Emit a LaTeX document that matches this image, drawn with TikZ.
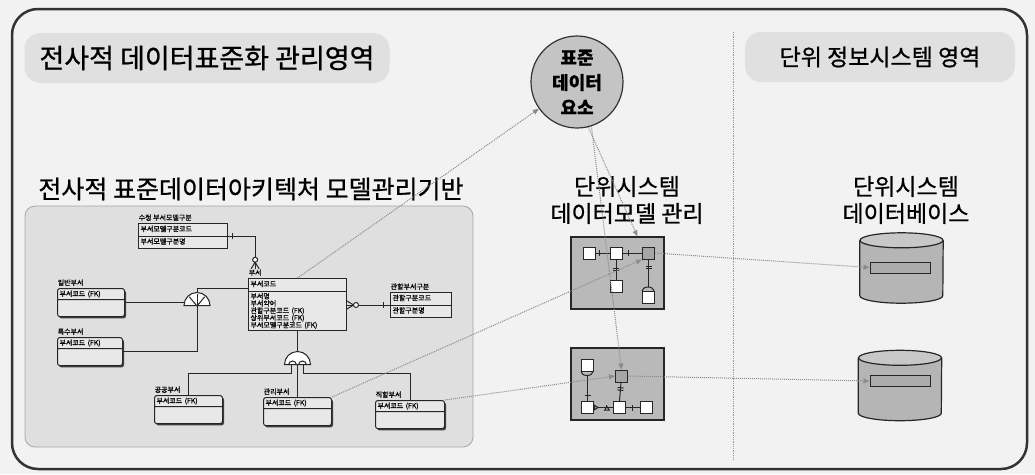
\documentclass[tikz,border=0pt]{standalone}
\usepackage{fontspec}
\setmainfont{Noto Sans CJK KR}[FakeBold=0.8]
\usetikzlibrary{shapes.geometric,shapes.multipart,shadows,arrows.meta,decorations.markings}
\newcommand{\tinyer}{\fontsize{7}{7.2}\selectfont}
\newcommand{\erstrut}{\rule[-2.5pt]{0pt}{8.5pt}}

\begin{document}
\begin{tikzpicture}[x=1pt,y=-1pt,
	ent/.style={rectangle split, rectangle split parts=2, draw=black!85, fill=gray!18, line width=1pt, font=\tinyer, align=left, text width=#1, inner xsep=2pt, inner ysep=1.5pt, anchor=north west},
	subent/.style={ent=#1, rounded corners=2.5pt, drop shadow={shadow xshift=1.5pt, shadow yshift=-1.8pt, fill=black!75, opacity=1}},
	etitle/.style={font=\tinyer, inner sep=0.5pt, anchor=south west, yshift=1.5pt},
	erline/.style={draw=black!85, line width=1pt},
	cat/.style={semicircle, draw=black!85, fill=white, line width=1pt, inner sep=0pt, minimum width=26pt, minimum height=13pt, anchor=chord center},
	modelbox/.style={draw=black!85, fill=gray!55, line width=1.2pt, minimum width=93pt, minimum height=72pt},
	sq/.style={draw=black!85, fill=white, line width=1pt, inner sep=0pt, minimum size=12pt},
	tsq/.style={sq, fill=gray!70},
	dbase/.style={inner sep=0pt, minimum width=83pt, minimum height=70pt},
	dbin/.style={draw=black!85, fill=gray!66, line width=1pt, minimum width=60pt, minimum height=11pt, inner sep=0pt},
	flow/.style={densely dotted, black!45, line width=1pt, -{Triangle[width=5pt,length=6pt]}},
	pill/.style={fill=gray!24, rounded corners=16pt, minimum height=50pt},
	onebar/.style={postaction={decorate, decoration={markings, mark=at position #1 with {\draw[black!85, line width=1pt] (0,-3pt) -- (0,3pt);}}}},
	twobar/.style={postaction={decorate, decoration={markings, mark=at position #1 with {\draw[black!85, line width=1pt] (-1.2pt,-3pt) -- (-1.2pt,3pt) (1.2pt,-3pt) -- (1.2pt,3pt);}}}},
	crowstart/.style={postaction={decorate, decoration={markings,
		mark=at position 0.5pt with {\draw[black!85, line width=1pt] (-0.5pt,4pt) -- (6pt,0) -- (-0.5pt,-4pt);},
		mark=at position 9pt with {\draw[black!85, line width=1pt, fill=white] (0,0) circle (2.5pt);}}}},
	crowend/.style={postaction={decorate, decoration={markings,
		mark=at position -9pt with {\draw[black!85, line width=1pt, fill=white] (0,0) circle (2.5pt);},
		mark=at position -0.5pt with {\draw[black!85, line width=1pt] (0.5pt,4pt) -- (-6pt,0) -- (0.5pt,-4pt);}}}}
]
	% Page, frame and divider
	\useasboundingbox (0,0) rectangle (1035,474);
	\fill[gray!10] (0,0) rectangle (1035,474);
	\draw[black!80, line width=2.5pt, rounded corners=26pt] (12,9) rectangle (1027,469);
	\draw[densely dotted, black!40, line width=0.8pt] (733,32) -- (733,460);
	
	% Area titles
	\node[pill, minimum width=365pt, font=\fontsize{27}{32}\selectfont] (eaarea) at (207,58) {전사적 데이터표준화 관리영역};
	\node[pill, minimum width=270pt, font=\fontsize{23}{28}\selectfont] (unitarea) at (880,57) {단위 정보시스템 영역};
	\node[font=\fontsize{25}{30}\selectfont] (eabase) at (251,189) {전사적 표준데이터아키텍처 모델관리기반};
	\node[font=\fontsize{23}{27}\selectfont, align=center] (mdlttl) at (627,200) {단위시스템\\데이터모델 관리};
	\node[font=\fontsize{23}{27}\selectfont, align=center] (dbttl) at (906,200) {단위시스템\\데이터베이스};
	
	% Standard data element
	\node[circle, draw=black!80, fill=gray!46, line width=1.2pt, minimum size=92pt, inner sep=0pt, align=center, font=\fontsize{18}{25}\selectfont\bfseries] (std) at (577,82) {표준\\데이터\\요소};
	
	% Enterprise ER model panel
	\draw[black!35, fill=gray!25, rounded corners=10pt, line width=0.8pt] (25,206) rectangle (473,447);
	
	% Entities
	\node[ent=85pt] (topent) at (138,223) {\erstrut 부서모델구분코드 \nodepart{two}\erstrut 부서모델구분명};
	\node[etitle] (topttl) at (topent.north west) {수정 부서모델구분};
	\node[ent=94pt] (dept) at (248,278) {\erstrut 부서코드 \nodepart{two}부서명\\부서약어\\관할구분코드 (FK)\\상위부서코드 (FK)\\부서모델구분코드 (FK)};
	\node[etitle] (deptttl) at (dept.north west) {부서};
	\node[ent=57pt] (gwan) at (390,292) {\erstrut 관할구분코드 \nodepart{two}\erstrut 관할구분명};
	\node[etitle] (gwanttl) at (gwan.north west) {관할부서구분};
	
	% Subtype entities
	\node[subent=63pt] (sub1) at (57,288) {부서코드 (FK) \nodepart{two}\rule{0pt}{13pt}};
	\node[etitle] (sub1ttl) at (sub1.north west) {일반부서};
	\node[subent=61pt] (sub2) at (57,337) {부서코드 (FK) \nodepart{two}\rule{0pt}{13pt}};
	\node[etitle] (sub2ttl) at (sub2.north west) {특수부서};
	\node[subent=64pt] (sub3) at (154,395) {부서코드 (FK) \nodepart{two}\rule{0pt}{13pt}};
	\node[etitle] (sub3ttl) at (sub3.north west) {공공부서};
	\node[subent=64pt] (sub4) at (263,397) {부서코드 (FK) \nodepart{two}\rule{0pt}{13pt}};
	\node[etitle] (sub4ttl) at (sub4.north west) {관리부서};
	\node[subent=65pt] (sub5) at (375,400) {부서코드 (FK) \nodepart{two}\rule{0pt}{13pt}};
	\node[etitle] (sub5ttl) at (sub5.north west) {직할부서};
	
	% Category symbols
	\node[cat] (catL) at (197,306) {};
	\foreach \a in {50,90,130}
		\draw[erline] (catL.chord center) -- ++(\a:12pt);
	\node[cat] (catB) at (297.5,365) {};
	\draw[erline] ([xshift=-9pt]catB.chord center) arc[start angle=180, end angle=0, radius=4pt];
	\draw[erline] ([xshift=1pt]catB.chord center) arc[start angle=180, end angle=0, radius=4pt];
	
	% Relationships
	\draw[erline, onebar=4pt, crowend] (topent.east) -| (deptttl.north);
	\draw[erline] ([yshift=-10pt]dept.north west) -| (catL.apex);
	\draw[erline] (sub1.east) -- (sub1.east -| catL.arc end);
	\draw[erline] (catL.chord center) |- (sub2.east);
	\draw[erline] (dept.south) -- (catB.apex);
	\draw[erline] ([xshift=-6pt]catB.chord center) -- ++(0,8) -| (sub3.north);
	\draw[erline] (catB.chord center) -- (sub4.north);
	\draw[erline] ([xshift=6pt]catB.chord center) -- ++(0,8) -| (sub5.north);
	\draw[erline, crowstart, onebar=-7pt] (dept.east |- gwan.west) -- (gwan.west);
	
	% Unit system data models
	\node[modelbox] (mb1) at (617.5,273) {};
	\node[sq] (m1a) at (589,253) {};
	\node[sq] (m1b) at (616,253) {};
	\node[tsq] (m1c) at (648.5,253) {};
	\node[sq] (m1d) at (616,286) {};
	\node[sq] (m1e) at (648.5,297.5) {};
	\draw[erline] (m1e.north west) arc[start angle=180, end angle=0, x radius=6pt, y radius=4pt];
	\draw[erline, onebar=0.3] (m1a) -- (m1b);
	\draw[erline, onebar=0.3] (m1b) -- (m1c);
	\draw[erline, twobar=0.5] (m1b) -- (m1d);
	\draw[erline, twobar=0.3] (m1c.south) -- ([yshift=4pt]m1e.north);
	
	\node[modelbox] (mb2) at (617.5,384) {};
	\node[sq] (m2f) at (587.5,365) {};
	\node[tsq] (m2g) at (621.5,376) {};
	\node[sq] (m2h) at (587.5,407.5) {};
	\node[sq] (m2i) at (619,407.5) {};
	\node[sq] (m2j) at (646.5,407.5) {};
	\draw[erline] (m2f.south west) arc[start angle=180, end angle=360, x radius=6pt, y radius=4pt];
	\draw[erline, onebar=0.8] ([yshift=-4pt]m2f.south) -- (m2h);
	\draw[erline, twobar=0.35] (m2g) -- (m2i);
	\draw[erline, onebar=0.7, {Triangle[reversed, open, width=6pt, length=5pt]}-] (m2h) -- (m2i);
	\draw[erline, onebar=0.5] (m2i) -- (m2j);
	
	% Unit system databases
	\node[dbase] (db1) at (901.5,268) {};
	\node[dbase] (db2) at (900,385.5) {};
	\foreach \d in {db1,db2} {
		\draw[black!85, line width=1.2pt, fill=gray!58] ([yshift=-7.5pt]\d.north west) -- ([yshift=7.5pt]\d.south west) arc[start angle=180, end angle=360, x radius=41.5pt, y radius=7.5pt] -- ([yshift=-7.5pt]\d.north east);
		\draw[black!85, line width=1.2pt, fill=gray!43] ([yshift=-7.5pt]\d.north) ellipse[x radius=41.5pt, y radius=7.5pt];
	}
	\node[dbin] (db1in) at (900,267.5) {};
	\node[dbin] (db2in) at (900,381) {};
	
	% Data standard flows
	\draw[flow] (dept.north) -- (std);
	\draw[flow] (std.-76) -- ([xshift=20pt]mb1.north);
	\draw[flow] (std.-72) -- (m2g.north);
	\draw[flow] (sub4.north east) -- (m1c.south west);
	\draw[flow] (sub5.north east) -- (m2g.west);
	\draw[flow] (m1c.east) -- (db1in.west);
	\draw[flow] (m2g.east) -- (db2in.west);
\end{tikzpicture}
\end{document}
